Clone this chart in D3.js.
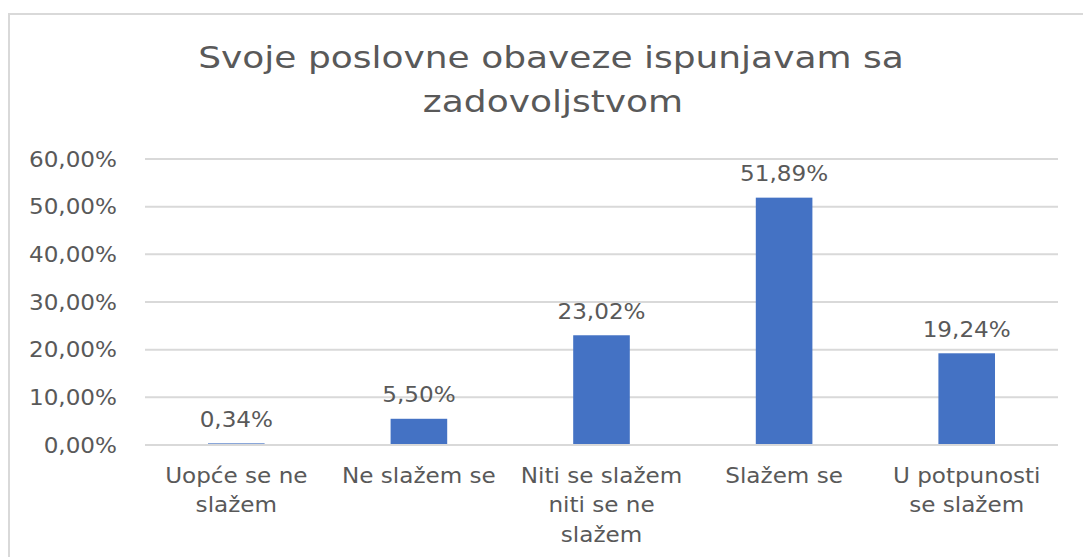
<!DOCTYPE html>
<html><head><meta charset="utf-8">
<script src="https://cdn.jsdelivr.net/npm/d3@7"></script>
<style>html,body{margin:0;padding:0;background:#fff;}svg{display:block;}</style>
</head><body>
<svg id="c" width="1083" height="557"></svg>
<script>
const categories = [["Uopće se ne","slažem"],["Ne slažem se"],["Niti se slažem","niti se ne","slažem"],["Slažem se"],["U potpunosti","se slažem"]];
const values = [0.34, 5.50, 23.02, 51.89, 19.24];
const yTicks = [0,10,20,30,40,50,60];
const titleLines = ["Svoje poslovne obaveze ispunjavam sa","zadovoljstvom"];

(function(){
const svg = d3.select("#c");
const W = 1083, H = 557;
const font = "DejaVu Sans";
const txt = "#595959";
const sx = 1.1, tsx = 1.18;

svg.append("rect").attr("x",9).attr("y",14).attr("width",W+10).attr("height",H+10)
  .attr("fill","none").attr("stroke","#d9d9d9").attr("stroke-width",2);

const pL = 145, pR = 1058, pT = 159, pB = 445;
const x = d3.scaleBand().domain(d3.range(values.length)).range([pL,pR]).paddingInner(0.69).paddingOuter(0.345);
const y = d3.scaleLinear().domain([0,60]).range([pB, pT]);
const fmt = v => v.toFixed(2).replace(".",",") + "%";

svg.append("g").selectAll("line").data(yTicks.filter(d=>d>0)).join("line")
  .attr("x1",pL).attr("x2",pR).attr("y1",d=>y(d)).attr("y2",d=>y(d))
  .attr("stroke","#d9d9d9").attr("stroke-width",2);

svg.append("g").selectAll("text").data(yTicks).join("text")
  .attr("transform",d=>`translate(117,${y(d)}) scale(${sx},1)`)
  .attr("dy","0.36em").attr("text-anchor","end")
  .attr("font-family",font).attr("font-size",21).attr("fill",txt)
  .text(d=>fmt(d));

svg.append("g").selectAll("rect").data(values).join("rect")
  .attr("x",(d,i)=>x(i)).attr("width",x.bandwidth())
  .attr("y",d=>y(d)).attr("height",d=>pB-y(d))
  .attr("fill","#4472c4");

// baseline axis line drawn over bars
svg.append("line").attr("x1",pL).attr("x2",pR).attr("y1",y(0)).attr("y2",y(0))
  .attr("stroke","#d9d9d9").attr("stroke-width",2);

svg.append("g").selectAll("text").data(values).join("text")
  .attr("transform",(d,i)=>`translate(${x(i)+x.bandwidth()/2},${y(d)-16.5}) scale(${sx},1)`)
  .attr("text-anchor","middle").attr("font-family",font).attr("font-size",21).attr("fill",txt)
  .text(d=>fmt(d));

const cg = svg.append("g").selectAll("text").data(categories).join("text")
  .attr("transform",(d,i)=>`translate(${x(i)+x.bandwidth()/2},483) scale(${sx},1)`)
  .attr("text-anchor","middle").attr("font-family",font).attr("font-size",21).attr("fill",txt);
cg.selectAll("tspan").data(d=>d).join("tspan")
  .attr("x",0).attr("dy",(d,i)=>i===0?0:29.5).text(d=>d);

svg.append("g").selectAll("text").data(titleLines).join("text")
  .attr("transform",(d,i)=>`translate(${551+i*2},${68+i*44}) scale(${tsx},1)`)
  .attr("text-anchor","middle")
  .attr("font-family",font).attr("font-size",30.5).attr("fill",txt)
  .text(d=>d);
})();
</script>
</body></html>
